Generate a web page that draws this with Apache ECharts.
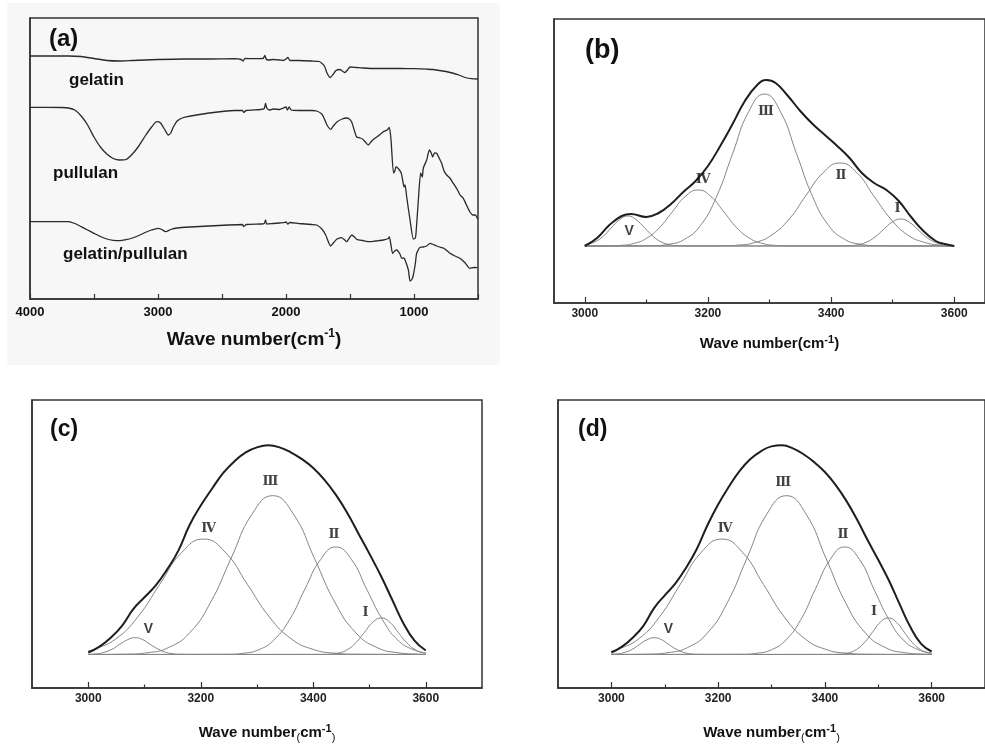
<!DOCTYPE html>
<html>
<head>
<meta charset="utf-8">
<script src="https://cdn.jsdelivr.net/npm/echarts@6/dist/echarts.min.js"></script>
<style>html,body{margin:0;padding:0;background:#fff}#main{width:985px;height:744px}</style>
</head>
<body>
<div id="main"></div>
<script>
// (a) FTIR spectra, [wavenumber, a.u.]
var gelatin = [[4000,243],[3700,243],[3600,242.5],[3500,240.5],[3400,238.5],[3300,238],[3200,238.5],[3100,239],[3000,239.5],[2800,240],[2600,240],[2400,240.3],[2350,239.5],[2335,238],[2320,240.5],[2250,240.3],[2180,240.5],[2165,243.5],[2155,240],[2140,239],[2100,239.5],[2050,239],[2020,238.5],[2000,240],[1985,241.5],[1970,238.5],[1900,238.5],[1800,238],[1740,237.5],[1700,233],[1680,226],[1655,221.5],[1630,225],[1610,228.5],[1580,229.5],[1560,228],[1540,226.5],[1520,229],[1500,232],[1450,231.5],[1400,231],[1300,230.5],[1200,230.5],[1100,230.5],[1000,230.3],[900,229.8],[850,229.5],[800,228.5],[750,227.5],[700,226],[650,224],[600,221.5],[550,220.3],[500,220]];
var pullulan = [[4000,191.7],[3750,191.5],[3700,191],[3650,189],[3600,183],[3550,174],[3500,162],[3450,152],[3400,145],[3350,140.5],[3300,139],[3250,139.5],[3200,145],[3150,153],[3100,163],[3050,172],[3010,177.3],[2980,176],[2950,170],[2920,164],[2900,166],[2880,172],[2850,178],[2800,181.5],[2700,184],[2600,186],[2500,187.5],[2400,188.5],[2340,188.5],[2330,186.5],[2310,188.5],[2200,189.5],[2170,190.5],[2160,195.5],[2150,191],[2130,189],[2100,190],[2050,189.5],[2020,191],[2000,192],[1990,189],[1975,192],[1960,189],[1900,188.5],[1800,188.5],[1760,188],[1720,185],[1700,180],[1680,174],[1651,169.7],[1630,173],[1600,177.3],[1560,180],[1530,181],[1510,180.5],[1487,177],[1465,168],[1448,162],[1420,161],[1400,159.7],[1380,157],[1357,154],[1330,158],[1305,160.7],[1270,164],[1240,167.3],[1210,169],[1193,171.7],[1180,160],[1160,126],[1150,128],[1140,132.3],[1120,130],[1100,126],[1090,120],[1078,112],[1070,114],[1057,102],[1031,79],[1005,60],[990,61],[984,66],[966,99],[948,126],[935,122],[927,131],[901,139],[880,149],[865,146],[854,142],[840,146],[823,145.7],[800,140],[784,135.7],[765,128],[745,124],[720,121],[693,115.7],[660,109],[640,104],[615,100.7],[590,94],[563,87],[540,84],[520,84],[505,80.7],[500,80]];
var blend = [[4000,77.3],[3700,77.3],[3650,75.5],[3600,72.3],[3550,69],[3500,65.7],[3450,62.5],[3400,60],[3350,58.7],[3300,58.3],[3250,59.3],[3200,61],[3150,63.5],[3100,66.5],[3050,69],[3000,70.7],[2970,69.5],[2940,67.3],[2900,69.5],[2850,71],[2750,72],[2600,73],[2450,74],[2340,74.5],[2330,72.5],[2310,74.5],[2200,75],[2170,75.5],[2160,79],[2150,75],[2100,75.5],[2050,76],[2020,76.3],[2000,77],[1985,75],[1970,76.5],[1900,75.5],[1800,74.5],[1760,74],[1720,70],[1690,64],[1651,53],[1630,56],[1604,59.7],[1565,61.3],[1545,59.5],[1526,57.3],[1505,61],[1487,64],[1465,62],[1448,59.7],[1400,58.5],[1344,57.3],[1300,58],[1240,59],[1200,60.5],[1193,62.3],[1180,54],[1167,45.7],[1150,48],[1135,49],[1110,45],[1096,40.7],[1080,41],[1070,39],[1044,29],[1031,18],[1015,20],[1005,24],[990,35],[979,45.7],[953,51.7],[930,52],[901,53],[875,55.7],[850,54.5],[823,53],[800,52],[771,51],[740,48],[719,45.7],[680,43],[641,40.7],[600,36],[563,30.7],[530,31.5],[505,31.3],[500,31]];

// (b) band fitting
var bEnvX = [3000,3020,3040,3060,3075,3100,3120,3140,3160,3180,3200,3220,3240,3260,3280,3295,3310,3330,3350,3370,3390,3410,3430,3450,3470,3490,3510,3530,3550,3570,3585,3600];
var bEnvY = [0,8,21,30,32,29,33,42,54,65,80,100,122,145,161,166,163,150,135,122,111,100,88,73,63,56,45,29,15,5,2,0];
var bI   = [[3000,0],[3415,0.1],[3429,0.3],[3443,1.2],[3457,3.7],[3471,8.8],[3485,16.4],[3499,23.8],[3513,27],[3527,23.8],[3541,16.4],[3555,8.8],[3569,3.7],[3583,1.2],[3597,0.3],[3600,0.2]];
var bII  = [[3000,0],[3222,0.2],[3249,0.9],[3277,3.6],[3304,11.2],[3332,27],[3359,50.3],[3387,73.2],[3414,83],[3442,73.2],[3469,50.3],[3497,27],[3524,11.2],[3552,3.6],[3579,0.9],[3600,0.3]];
var bIII = [[3000,0],[3110,0.3],[3136,1.7],[3162,6.7],[3188,20.6],[3214,49.4],[3240,92.2],[3266,134.1],[3292,152],[3318,134.1],[3344,92.2],[3370,49.4],[3396,20.6],[3422,6.7],[3448,1.7],[3474,0.3],[3600,0]];
var bIV  = [[3000,0],[3037,0.1],[3058,0.6],[3079,2.5],[3100,7.6],[3121,18.2],[3142,34],[3163,49.4],[3184,56],[3205,49.4],[3226,34],[3247,18.2],[3268,7.6],[3289,2.5],[3310,0.6],[3331,0.1],[3600,0]];
var bV   = [[3000,1],[3016,4.1],[3030,9.7],[3043,18.2],[3057,26.5],[3070,30],[3083,26.5],[3097,18.2],[3111,9.7],[3124,4.1],[3138,1.3],[3151,0.3],[3180,0],[3600,0]];
var bTags = [[3508,37,'Ⅰ'],[3416,70,'Ⅱ'],[3294,134,'Ⅲ'],[3192,66,'Ⅳ'],[3072,15,'V']];

// (c)
var gridX = [3000,3020,3040,3060,3080,3100,3120,3140,3160,3180,3200,3220,3240,3260,3280,3300,3320,3340,3360,3380,3400,3420,3440,3460,3480,3500,3520,3540,3560,3580,3600];
var cEnvY = [2,8,17,29,46,58,70,86,105,131,151,168,184,196,205,210,212,210,205,198,189,177,162,144,123,102,80,56,32,14,4];
var cI   = [[3000,0],[3416,0.1],[3431,0.4],[3446,1.6],[3461,5],[3476,12],[3491,22.4],[3506,32.7],[3521,37],[3536,32.7],[3551,22.4],[3566,12],[3581,5],[3596,1.6],[3600,1.2]];
var cII  = [[3000,0],[3248,0.2],[3275,1.2],[3303,4.8],[3330,14.7],[3358,35.4],[3385,66.1],[3413,96.2],[3440,109],[3468,96.2],[3495,66.1],[3523,35.4],[3550,14.7],[3578,4.8],[3600,1.6]];
var cIII = [[3000,0],[3069,0.35],[3106,1.8],[3143,7.1],[3180,21.8],[3217,52.3],[3254,97.6],[3291,142.1],[3328,161],[3365,142.1],[3402,97.6],[3439,52.3],[3476,21.8],[3513,7.1],[3550,1.8],[3587,0.35],[3600,0.2]];
var cIV  = [[3000,3.7],[3010,5.1],[3049,15.8],[3088,38],[3127,71],[3166,103.3],[3205,117],[3244,103.3],[3283,71],[3322,38],[3361,15.8],[3400,5.1],[3439,1.3],[3478,0.3],[3600,0]];
var cV   = [[3000,0.2],[3016,0.7],[3029,2.3],[3043,5.5],[3056,10.3],[3070,15],[3083,17],[3097,15],[3110,10.3],[3124,5.5],[3137,2.3],[3151,0.7],[3164,0.2],[3200,0],[3600,0]];
var cTags = [[3493,42,'Ⅰ'],[3437,121,'Ⅱ'],[3324,175,'Ⅲ'],[3214,128,'Ⅳ'],[3107,26,'V']];

// (d)
var dEnvY = [2,8,17,29,47,60,72,88,107,131,152,170,186,198,206,211,212,209,203,195,185,172,156,137,116,96,75,51,28,11,3];
var dI   = [[3000,0],[3414,0.1],[3429,0.4],[3444,1.6],[3459,5],[3474,12],[3489,22.4],[3504,32.7],[3519,37],[3534,32.7],[3549,22.4],[3564,12],[3579,5],[3594,1.6],[3600,1]];
var dII  = [[3000,0],[3245,0.2],[3272,1.2],[3300,4.8],[3327,14.7],[3355,35.4],[3382,66.1],[3410,96.2],[3437,109],[3465,96.2],[3492,66.1],[3520,35.4],[3547,14.7],[3575,4.8],[3600,1.4]];
var dIII = [[3000,0],[3069,0.35],[3106,1.8],[3143,7.1],[3180,21.8],[3217,52.3],[3254,97.6],[3291,142.1],[3328,161],[3365,142.1],[3402,97.6],[3439,52.3],[3476,21.8],[3513,7.1],[3550,1.8],[3587,0.35],[3600,0.2]];
var dIV  = [[3000,3.4],[3012,5.1],[3051,15.8],[3090,38],[3129,71],[3168,103.3],[3207,117],[3246,103.3],[3285,71],[3324,38],[3363,15.8],[3402,5.1],[3441,1.3],[3480,0.3],[3600,0]];
var dV   = [[3000,0.3],[3013,0.7],[3026,2.3],[3040,5.5],[3053,10.3],[3067,15],[3080,17],[3094,15],[3107,10.3],[3121,5.5],[3134,2.3],[3148,0.7],[3161,0.2],[3200,0],[3600,0]];
var dTags = [[3492,43,'Ⅰ'],[3434,121,'Ⅱ'],[3322,174,'Ⅲ'],[3213,128,'Ⅳ'],[3107,26,'V']];

var majorTicks = [3000,3200,3400,3600];
var minorTicks = [3100,3300,3500];

var FONT = '"Liberation Sans", Arial, sans-serif';
var INK = '#333';

function zip(xs, ys) {
    var out = [];
    for (var i = 0; i < xs.length; i++) out.push([xs[i], ys[i]]);
    return out;
}

function curve(xi, yi, data, color, width, smooth) {
    return {
        type: 'line', xAxisIndex: xi, yAxisIndex: yi, data: data,
        showSymbol: false, smooth: smooth, silent: true, z: width > 1.5 ? 4 : 3,
        lineStyle: { color: color, width: width }
    };
}

function tags(xi, yi, list) {
    return {
        type: 'scatter', xAxisIndex: xi, yAxisIndex: yi, symbolSize: 1, silent: true, z: 5,
        itemStyle: { color: 'rgba(0,0,0,0)' },
        label: {
            show: true, position: 'inside', formatter: '{b}',
            fontFamily: '"DejaVu Serif", serif', fontWeight: 'bold', fontSize: 13, color: '#111'
        },
        data: list.map(function (t) {
            var item = { name: t[2], value: [t[0], t[1]] };
            if (t[2] === 'V') item.label = { fontFamily: FONT, fontSize: 14 };
            return item;
        })
    };
}

function fitPanel(xi, yi, env, comps, tagList) {
    var s = [];
    comps.forEach(function (c) { s.push(curve(xi, yi, c, '#858585', 1, 0.5)); });
    s.push(curve(xi, yi, env, '#1e1e1e', 2, 0.45));
    s.push(tags(xi, yi, tagList));
    return s;
}

var richSmall = {
    t: { fontFamily: FONT, fontWeight: 'bold', fontSize: 15, color: '#111', lineHeight: 20 },
    p: { fontFamily: FONT, fontSize: 11, color: '#111', lineHeight: 13, verticalAlign: 'bottom' },
    s: { fontFamily: FONT, fontWeight: 'bold', fontSize: 11, color: '#111', lineHeight: 11, verticalAlign: 'top' }
};

function plainLabel(v) { return String(v); }

function fitAxes(grid, min, max, nameText, nameGap, shift) {
    var main = {
        gridIndex: grid, type: 'value', min: min, max: max, position: 'bottom',
        axisLine: { onZero: false, lineStyle: { color: INK, width: 1.5 } },
        axisTick: { inside: true, length: 6, customValues: majorTicks, lineStyle: { color: INK, width: 1.2 } },
        axisLabel: { customValues: majorTicks, formatter: plainLabel, margin: 5, fontFamily: FONT, fontWeight: 'bold', fontSize: 12, color: '#222' },
        splitLine: { show: false },
        name: nameText, nameLocation: 'middle', nameGap: nameGap,
        nameTextStyle: { rich: richSmall, padding: [0, 0, 0, shift || 0] }
    };
    var minor = {
        gridIndex: grid, type: 'value', min: min, max: max, position: 'bottom',
        axisLine: { show: false, onZero: false },
        axisTick: { inside: true, length: 3.5, customValues: minorTicks, lineStyle: { color: INK, width: 1.2 } },
        axisLabel: { show: false },
        splitLine: { show: false }
    };
    return [main, minor];
}

function yAxisFor(grid, min, max) {
    return {
        gridIndex: grid, type: 'value', min: min, max: max,
        axisLine: { show: true, onZero: false, lineStyle: { color: INK, width: 1.5 } },
        axisTick: { show: false }, axisLabel: { show: false }, splitLine: { show: false }
    };
}

var dom = document.getElementById('main');
var myChart = echarts.init(dom);

var gridStyle = { show: true, borderColor: INK, borderWidth: 1.5, backgroundColor: 'transparent' };

var xAxes = [{
    gridIndex: 0, type: 'value', min: 500, max: 4000, interval: 500, inverse: true, position: 'bottom',
    axisLine: { onZero: false, lineStyle: { color: INK, width: 1.5 } },
    axisTick: { inside: true, length: 5, lineStyle: { color: INK, width: 1.2 } },
    axisLabel: {
        margin: 7, fontFamily: FONT, fontWeight: 'bold', fontSize: 13, color: '#111',
        formatter: function (v) { return (v % 1000 === 0) ? String(v) : ''; }
    },
    splitLine: { show: false },
    name: '{t|Wave number(cm}{s|-1}{t|)}', nameLocation: 'middle', nameGap: 29,
    nameTextStyle: {
        rich: {
            t: { fontFamily: FONT, fontWeight: 'bold', fontSize: 19, color: '#111', lineHeight: 24 },
            s: { fontFamily: FONT, fontWeight: 'bold', fontSize: 12, color: '#111', lineHeight: 12, verticalAlign: 'top' }
        }
    }
}];
xAxes = xAxes.concat(
    fitAxes(1, 2950, 3650, '{t|Wave number(cm}{s|-1}{t|)}', 31, 0),
    fitAxes(2, 2900, 3700, '{t|Wave number}{p|(}{t|cm}{s|-1}{p|)}', 35, 20),
    fitAxes(3, 2900, 3700, '{t|Wave number}{p|(}{t|cm}{s|-1}{p|)}', 35, 0)
);

var series = [
    curve(0, 0, gelatin, '#2a2a2a', 1.3, 0.2),
    curve(0, 0, pullulan, '#2a2a2a', 1.3, 0.2),
    curve(0, 0, blend, '#2a2a2a', 1.3, 0.2)
];
series = series.concat(
    fitPanel(1, 1, zip(bEnvX, bEnvY), [bI, bII, bIII, bIV, bV], bTags),
    fitPanel(3, 2, zip(gridX, cEnvY), [cI, cII, cIII, cIV, cV], cTags),
    fitPanel(5, 3, zip(gridX, dEnvY), [dI, dII, dIII, dIV, dV], dTags)
);

function panelText(x, y, txt, size) {
    return { type: 'text', left: x, top: y, z: 10, style: { text: txt, fontFamily: FONT, fontWeight: 'bold', fontSize: size, fill: '#111' } };
}

var option = {
    backgroundColor: '#fff',
    animation: false,
    grid: [
        Object.assign({ left: 30, top: 18, width: 448, height: 281 }, gridStyle),
        Object.assign({ left: 554, top: 19, width: 438, height: 284 }, gridStyle),
        Object.assign({ left: 32, top: 400, width: 450, height: 292 }, gridStyle),
        Object.assign({ left: 558, top: 400, width: 440, height: 292 }, gridStyle)
    ],
    xAxis: xAxes,
    yAxis: [yAxisFor(0, 0, 281), yAxisFor(1, -57, 227), yAxisFor(2, -34, 258), yAxisFor(3, -34, 258)],
    graphic: [
        { type: 'rect', left: 7, top: 3, z: -10, shape: { width: 493, height: 362 }, style: { fill: '#f7f7f7' } },
        panelText(49, 27, '(a)', 24),
        panelText(585, 37, '(b)', 27),
        panelText(50, 418, '(c)', 23),
        panelText(578, 418, '(d)', 23),
        panelText(69, 72, 'gelatin', 17),
        panelText(53, 165, 'pullulan', 17),
        panelText(63, 246, 'gelatin/pullulan', 17)
    ],
    series: series
};

if (option && typeof option === 'object') {
    myChart.setOption(option, true);
}
</script>
</body>
</html>
